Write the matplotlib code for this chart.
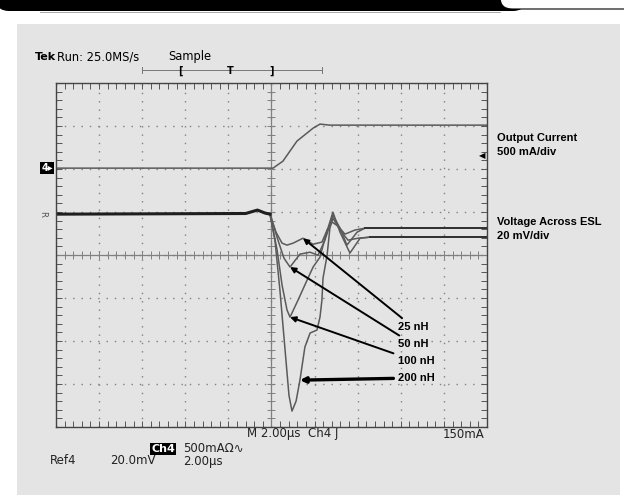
import numpy as np
import matplotlib
matplotlib.use("Agg")
import matplotlib.pyplot as plt
from matplotlib.patches import FancyBboxPatch, Rectangle

# scope settings
TIME_PER_DIV = 2.0      # us/div
VOLT_PER_DIV = 20.0     # mV/div
AMP_PER_DIV = 500.0     # mA/div
CURRENT_OFFSET = 2.02   # divisions above centre
VOLT_OFFSET = 0.95
TRIGGER_LEVEL = 150.0   # mA

# output current step (time us, mA)
current_t = [-10.0, 0.0, 0.07, 0.53, 1.18, 1.93, 2.25, 2.71, 10.0]
current_ma = [0.0, 0.0, 0.0, 81, 314, 465, 512, 500, 500]

# voltage across ESL, shared pre-trigger part (time us, mV)
pre_t = [-10.0, -1.2, -0.65, -0.3, -0.07]
pre_mv = [0.0, 0.3, 1.9, 0.5, 0.0]

labels = ["25 nH", "50 nH", "100 nH", "200 nH"]

esl_t = {
    "25 nH": [-0.07, 0.21, 0.49, 0.72, 1.0, 1.46, 1.93, 2.34, 2.62, 2.85, 3.18,
              3.64, 4.11, 4.57, 10.0],
    "50 nH": [-0.07, 0.30, 0.58, 0.86, 1.32, 1.79, 2.16, 2.48, 2.71, 2.85, 3.18,
              3.50, 3.97, 4.34, 10.0],
    "100 nH": [-0.07, 0.26, 0.49, 0.72, 0.86, 1.23, 1.65, 1.93, 2.25, 2.58, 2.81,
               3.09, 3.41, 3.87, 4.34, 10.0],
    "200 nH": [-0.07, 0.16, 0.39, 0.63, 0.81, 0.95, 1.14, 1.32, 1.55, 1.79, 2.11,
               2.25, 2.34, 2.39, 2.58, 2.71, 2.85, 3.18, 3.55, 4.01, 4.57, 10.0],
}
esl_mv = {
    "25 nH": [0.0, -8.4, -13.5, -14.4, -13.5, -11.2, -14.0, -13.0, -6.5, 0.9, -8.4,
              -18.1, -11.2, -10.7, -10.7],
    "50 nH": [0.0, -12.1, -20.5, -24.6, -18.6, -17.7, -19.1, -12.1, -5.1, -0.5, -6.5,
              -14.4, -8.4, -6.5, -6.5],
    "100 nH": [0.0, -16.7, -33.0, -44.6, -47.9, -40.0, -30.7, -24.6, -20.0, -7.4, -3.7,
               -5.6, -9.3, -7.4, -6.5, -6.5],
    "200 nH": [0.0, -12.1, -35.3, -63.2, -84.2, -91.6, -87.0, -77.2, -61.8, -55.3, -53.9,
               -47.9, -40.0, -29.8, -19.1, -6.5, -1.9, -7.4, -12.1, -11.2, -10.7, -10.7],
}
# index of the point each callout arrow points at
arrow_idx = {"25 nH": 5, "50 nH": 3, "100 nH": 4, "200 nH": 7}

BG = "#e4e4e4"
TRACE = "#5a5a5a"
NARROW = ["Liberation Sans", "DejaVu Sans"]

fig = plt.figure(figsize=(6.24, 5.04), dpi=100)
fig.patch.set_facecolor("white")

# decoration layer in pixel coordinates
deco = fig.add_axes([0, 0, 1, 1], zorder=0)
deco.set_xlim(0, 624)
deco.set_ylim(504, 0)
deco.axis("off")
deco.add_patch(Rectangle((17, 24), 603, 471, facecolor=BG, edgecolor="none"))
deco.add_patch(FancyBboxPatch((-4, -30), 530, 41, boxstyle="round,pad=0,rounding_size=13",
                              facecolor="black", edgecolor="none"))
deco.add_patch(FancyBboxPatch((500, -30), 160, 39, boxstyle="round,pad=0,rounding_size=12",
                              facecolor="white", edgecolor="black", lw=0.8))
deco.plot([40, 500], [12, 12], color="#999999", lw=0.6)

deco.text(35, 60, "Tek", fontsize=8, fontweight="bold", va="baseline")
deco.text(57, 60, "Run: 25.0MS/s", fontsize=8.3, va="baseline")
deco.text(168, 60, "Sample", fontsize=8.3, va="baseline")
deco.plot([142, 322], [70, 70], color="#777777", lw=0.7)
deco.plot([142, 142], [67, 73], color="#777777", lw=0.7)
deco.plot([322, 322], [67, 73], color="#777777", lw=0.7)
deco.text(180, 71, "[", fontsize=7, fontweight="bold", ha="center", va="center")
deco.text(230, 71, "T", fontsize=7, fontweight="bold", ha="center", va="center")
deco.text(272, 71, "]", fontsize=7, fontweight="bold", ha="center", va="center")

deco.text(497, 138, "Output Current", fontsize=8, fontweight="bold", family=NARROW, va="center")
deco.text(497, 152, "500 mA/div", fontsize=8, fontweight="bold", family=NARROW, va="center")
deco.text(497, 222, "Voltage Across ESL", fontsize=8, fontweight="bold", family=NARROW, va="center")
deco.text(497, 236, "20 mV/div", fontsize=8, fontweight="bold", family=NARROW, va="center")

deco.text(247, 434, "M 2.00µs  Ch4 ʃ", fontsize=8.5, va="center", color="#222222")
deco.text(484, 434, "150mA", fontsize=8.5, va="center", ha="right", color="#222222")
deco.text(151, 449, "Ch4", fontsize=8, color="white", fontweight="bold", va="center",
          bbox=dict(boxstyle="square,pad=0.1", facecolor="black", edgecolor="none"))
deco.text(183, 449, "500mAΩ∿", fontsize=8.5, va="center", color="#222222")
deco.text(50, 461, "Ref4", fontsize=8.5, va="center", color="#222222")
deco.text(110, 461, "20.0mV", fontsize=8.5, va="center", color="#222222")
deco.text(183, 461, "2.00µs", fontsize=8.5, va="center", color="#222222")

# scope screen
ax = fig.add_axes([56 / 624, 1 - 427 / 504, 431 / 624, 344 / 504], zorder=1)
ax.set_facecolor(BG)
ax.set_xlim(-5 * TIME_PER_DIV, 5 * TIME_PER_DIV)
ax.set_ylim(-4, 4)
ax.set_xticks(np.arange(-10, 10.1, TIME_PER_DIV))
ax.set_yticks(np.arange(-4, 4.1, 1))
ax.set_xticks(np.arange(-10, 10.1, TIME_PER_DIV / 5), minor=True)
ax.set_yticks(np.arange(-4, 4.1, 0.2), minor=True)
ax.tick_params(which="both", direction="in", length=4, width=0.7, color="#555555",
               top=True, right=True, labelbottom=False, labelleft=False)
ax.grid(True, which="major", color="#808080", lw=1.0, linestyle=(0, (1, 5)))
for s in ax.spines.values():
    s.set_color("#444444")
    s.set_linewidth(1.0)

ax.axhline(0, color="#808080", lw=0.9)
ax.axvline(0, color="#808080", lw=0.9)
xs = np.arange(-10, 10.01, TIME_PER_DIV / 5)
ys = np.arange(-4, 4.01, 0.2)
ax.plot(xs, np.zeros_like(xs), ls="none", marker="|", ms=6, mew=0.7, color="#808080")
ax.plot(np.zeros_like(ys), ys, ls="none", marker="_", ms=6, mew=0.7, color="#808080")

# current trace
ax.plot(current_t, CURRENT_OFFSET + np.array(current_ma) / AMP_PER_DIV, color=TRACE, lw=1.1)

# voltage traces
for name in labels:
    y = VOLT_OFFSET + np.array(esl_mv[name]) / VOLT_PER_DIV
    ax.plot(esl_t[name], y, color=TRACE, lw=1.1)
    ax.plot(esl_t[name][-2:], y[-2:], color="#333333", lw=1.4)
ax.plot(pre_t, VOLT_OFFSET + np.array(pre_mv) / VOLT_PER_DIV, color="#1e1e1e", lw=2.2)

# callouts
label_y = [-1.67, -2.07, -2.47, -2.86]
for name, ly in zip(labels, label_y):
    i = arrow_idx[name]
    tx = esl_t[name][i]
    ty = VOLT_OFFSET + esl_mv[name][i] / VOLT_PER_DIV
    lw = 2.4 if name == "200 nH" else 1.4
    ax.annotate(name, xy=(tx, ty), xytext=(5.85, ly), fontsize=8, fontweight="bold",
                family=NARROW, va="center", ha="left",
                arrowprops=dict(arrowstyle="-|>", color="black", lw=lw,
                                mutation_scale=8, shrinkA=1, shrinkB=0))

# channel markers
ax.text(-10.15, CURRENT_OFFSET, "4▸", fontsize=7, color="white", fontweight="bold",
        ha="right", va="center", clip_on=False,
        bbox=dict(boxstyle="square,pad=0.1", facecolor="black", edgecolor="none"))
ax.text(-10.4, VOLT_OFFSET, "R", fontsize=6, color="#555555", rotation=-90,
        ha="right", va="center", clip_on=False)
ax.text(9.95, CURRENT_OFFSET + TRIGGER_LEVEL / AMP_PER_DIV, "◀", fontsize=6,
        ha="right", va="center")

fig.savefig("out.png", dpi=100)
